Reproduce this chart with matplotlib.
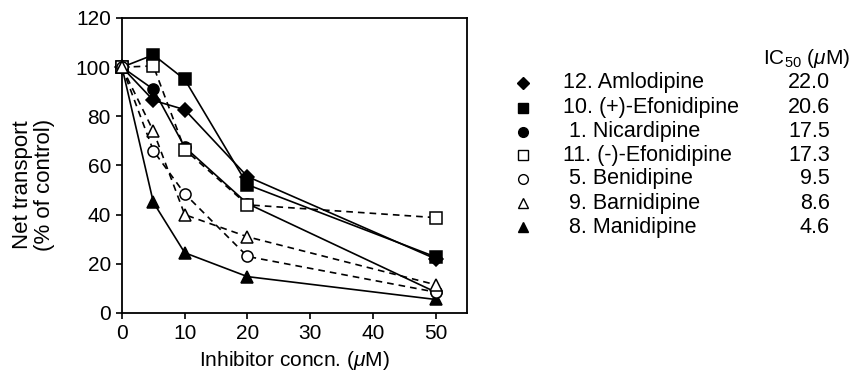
"""
Net transport vs inhibitor concentration for dihydropyridines
"""

import matplotlib
matplotlib.use("Agg")
import matplotlib.pyplot as plt

plt.rcParams['font.family'] = ['Liberation Sans', 'DejaVu Sans']
plt.rcParams['mathtext.fontset'] = 'custom'
plt.rcParams['mathtext.it'] = 'Liberation Sans:italic'
plt.rcParams['mathtext.rm'] = 'Liberation Sans'

# Data
conc = [0, 5, 10, 20, 50]
amlodipine = [100, 86.5, 82.7, 55.5, 22.0]
efonidipine_plus = [100, 105, 95, 52.2, 22.8]
nicardipine = [100, 91, 67.5, 44.5, 8.5]
efonidipine_minus = [100, 100.5, 66.5, 44, 38.8]
benidipine = [100, 66, 48.5, 23, 8.5]
barnidipine = [100, 74, 40, 31, 11.5]
manidipine = [100, 45, 24.5, 14.8, 5.5]

labels = ['12. Amlodipine', '10. (+)-Efonidipine', ' 1. Nicardipine',
          '11. (-)-Efonidipine', ' 5. Benidipine', ' 9. Barnidipine',
          ' 8. Manidipine']
ic50 = ['22.0', '20.6', '17.5', '17.3', '9.5', '8.6', '4.6']

series = [amlodipine, efonidipine_plus, nicardipine, efonidipine_minus,
          benidipine, barnidipine, manidipine]
markers = ['D', 's', 'o', 's', 'o', '^', '^']
filled = [True, True, True, False, False, False, True]
msizes = [7, 8, 8, 8, 8, 8, 8]

fig = plt.figure(figsize=(8.56, 3.81), dpi=100)
ax = fig.add_axes([122 / 856, 1 - 313 / 381, 345 / 856, 295 / 381])

# filled series first, open markers sit on top where they overlap
for i in [0, 1, 2, 6, 3, 4, 5]:
    ls = '-' if filled[i] else (0, (4, 3))
    ax.plot(conc, series[i], color='black', linestyle=ls, linewidth=1.2,
            marker=markers[i], markersize=msizes[i],
            markerfacecolor='black' if filled[i] else 'white',
            markeredgecolor='black', markeredgewidth=1.1,
            zorder=2 if filled[i] else 3, clip_on=False)

ax.set_xlim(0, 55)
ax.set_ylim(0, 120)
ax.set_xticks([0, 10, 20, 30, 40, 50])
ax.set_yticks([0, 20, 40, 60, 80, 100, 120])
ax.tick_params(direction='out', length=4, width=1.2, labelsize=15, pad=4,
               top=False, right=False)
for sp in ax.spines.values():
    sp.set_linewidth(1.3)
ax.set_xlabel(r'Inhibitor concn. ($\mathit{\mu}$M)', fontsize=15, labelpad=4)
ax.set_ylabel('Net transport\n(% of control)', fontsize=16, linespacing=1.05)
ax.yaxis.set_label_coords(-0.195, 0.434)

# legend with IC50 column, drawn in pixel coordinates
lax = fig.add_axes([480 / 856, 0, 376 / 856, 1])
lax.set_xlim(480, 856)
lax.set_ylim(381, 0)
lax.axis('off')
lax.text(850, 58, r'IC$_{50}$ ($\mathit{\mu}$M)', fontsize=15, ha='right', va='center')
row_y = [82.7, 107.7, 131.7, 155.2, 178.5, 203.3, 227.3]
for i, y in enumerate(row_y):
    lax.plot(523, y, marker=markers[i], markersize=msizes[i] - 1,
             markerfacecolor='black' if filled[i] else 'white',
             markeredgecolor='black', markeredgewidth=1.0, linestyle='none')
    lax.text(563, y, labels[i], fontsize=15.5, ha='left', va='center')
    lax.text(830, y, ic50[i], fontsize=15.5, ha='right', va='center')

fig.savefig('out.png', dpi=100)
